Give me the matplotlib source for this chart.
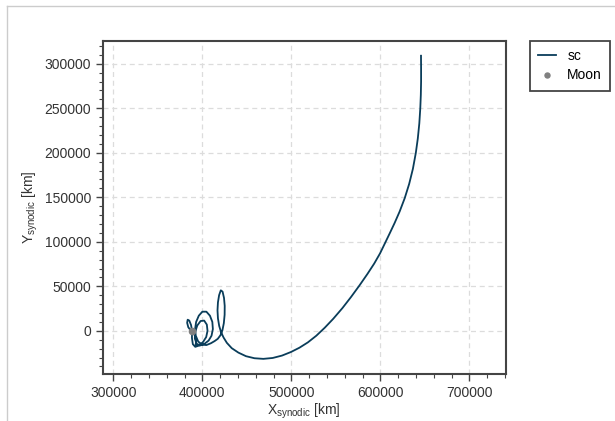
import numpy as np
import matplotlib
matplotlib.use("Agg")
import matplotlib.pyplot as plt
from matplotlib.lines import Line2D
from matplotlib.ticker import MultipleLocator, AutoMinorLocator, ScalarFormatter

# spacecraft trajectory in the synodic frame [1000 km]
sc_x_k = [645.6, 645.7, 645.7, 645.4, 644.8, 643.7, 642.0, 639.8, 636.5, 632.3,
          627.3, 621.6, 615.9, 610.7, 605.4, 599.6, 593.0, 585.5, 576.5, 567.0,
          557.3, 547.0, 537.5, 528.0, 518.5, 509.0, 499.5, 489.5, 479.0, 468.5,
          458.5, 449.0, 440.5, 433.0, 427.5, 423.8, 421.0, 418.9, 417.5, 417.0,
          417.5, 418.8, 420.7, 422.7, 424.3, 425.1, 425.0, 424.1, 422.5, 420.3,
          417.3, 413.8, 409.5, 404.5, 399.5, 395.3, 392.6, 391.8, 393.0, 396.0,
          400.0, 404.5, 408.5, 411.2, 411.8, 410.3, 407.0, 402.5, 397.5, 393.5,
          391.5, 392.0, 394.3, 398.0, 402.0, 405.0, 405.8, 404.3, 400.8, 396.5,
          392.0, 389.3, 388.3, 388.4, 387.3, 385.3, 383.5, 382.9, 384.2, 386.5,
          389.0, 391.5, 393.0, 392.5]
sc_y_k = [309.0, 295.0, 280.0, 265.0, 250.0, 233.0, 216.0, 200.0, 182.0, 165.0,
          149.0, 134.0, 121.0, 110.0, 99.0, 87.0, 75.5, 64.0, 51.0, 38.0,
          25.5, 13.5, 3.5, -5.5, -13.0, -19.0, -23.8, -27.8, -30.5, -31.5,
          -30.8, -28.5, -24.5, -19.5, -13.5, -7.5, -1.5, 5.5, 14.0, 23.0,
          32.0, 40.0, 45.5, 44.0, 37.0, 28.0, 18.0, 8.5, 0.5, -5.0,
          -9.0, -11.5, -14.0, -16.0, -15.5, -12.0, -5.5, 2.0, 10.0, 17.0,
          21.5, 21.5, 17.0, 10.0, 2.0, -5.5, -11.0, -14.5, -16.5, -14.5,
          -8.5, -1.0, 6.0, 11.0, 11.5, 7.0, 0.0, -7.0, -12.5, -16.5,
          -18.0, -15.0, -8.0, 0.0, 6.5, 11.5, 12.5, 9.0, 4.0, 1.0,
          -1.5, -5.0, -10.5, -16.0]

moon_x_k = [388.4]
moon_y_k = [0.0]

sc_x = np.array(sc_x_k) * 1000
sc_y = np.array(sc_y_k) * 1000
moon_x = np.array(moon_x_k) * 1000
moon_y = np.array(moon_y_k) * 1000

plt.rcParams['font.family'] = ['Liberation Sans', 'DejaVu Sans']
plt.rcParams['font.size'] = 10

fig = plt.figure(figsize=(6.15, 4.21), dpi=100)
ax = fig.add_axes([0.167, 0.1116, 0.655, 0.792])

ax.plot(sc_x, sc_y, color='#0a3d5a', linewidth=1.3, label='sc', zorder=3)
ax.plot(moon_x, moon_y, 'o', color='grey', markersize=4.5, label='Moon', zorder=4)

ax.set_aspect('equal', adjustable='datalim')

ax.xaxis.set_major_locator(MultipleLocator(100000))
ax.yaxis.set_major_locator(MultipleLocator(50000))
ax.xaxis.set_minor_locator(AutoMinorLocator(5))
ax.yaxis.set_minor_locator(AutoMinorLocator(5))
for axis in (ax.xaxis, ax.yaxis):
    fmt = ScalarFormatter(useOffset=False)
    fmt.set_scientific(False)
    axis.set_major_formatter(fmt)

ax.grid(True, which='major', linestyle=(0, (4, 3)), color='#dcdcdc', linewidth=0.9)
ax.set_axisbelow(True)

for sp in ax.spines.values():
    sp.set_color('#444444')
    sp.set_linewidth(1.5)
ax.tick_params(which='major', direction='out', length=5, width=1.0,
               color='#444444', labelcolor='#333333', labelsize=10)
ax.tick_params(which='minor', direction='out', length=3, width=0.8, color='#444444')

ax.set_xlabel(r'X$_\mathregular{synodic}$ [km]', color='#333333', fontsize=10, labelpad=1)
ax.set_ylabel(r'Y$_\mathregular{synodic}$ [km]', color='#333333', fontsize=10, labelpad=3)

leg = ax.legend(loc='upper left', bbox_to_anchor=(1.06, 1.0), borderaxespad=0,
                fancybox=False, framealpha=1, fontsize=10, handlelength=1.3,
                handletextpad=0.8, borderpad=0.6, labelspacing=0.4, markerscale=0.8)
leg.get_frame().set_edgecolor('#444444')
leg.get_frame().set_linewidth(1.3)

# light border of the original screenshot
fig.add_artist(Line2D([7 / 615, 7 / 615], [0, 1 - 6 / 421], color='#cccccc', linewidth=1))
fig.add_artist(Line2D([7 / 615, 1], [1 - 6 / 421, 1 - 6 / 421], color='#cccccc', linewidth=1))

fig.savefig('out.png', dpi=100)
